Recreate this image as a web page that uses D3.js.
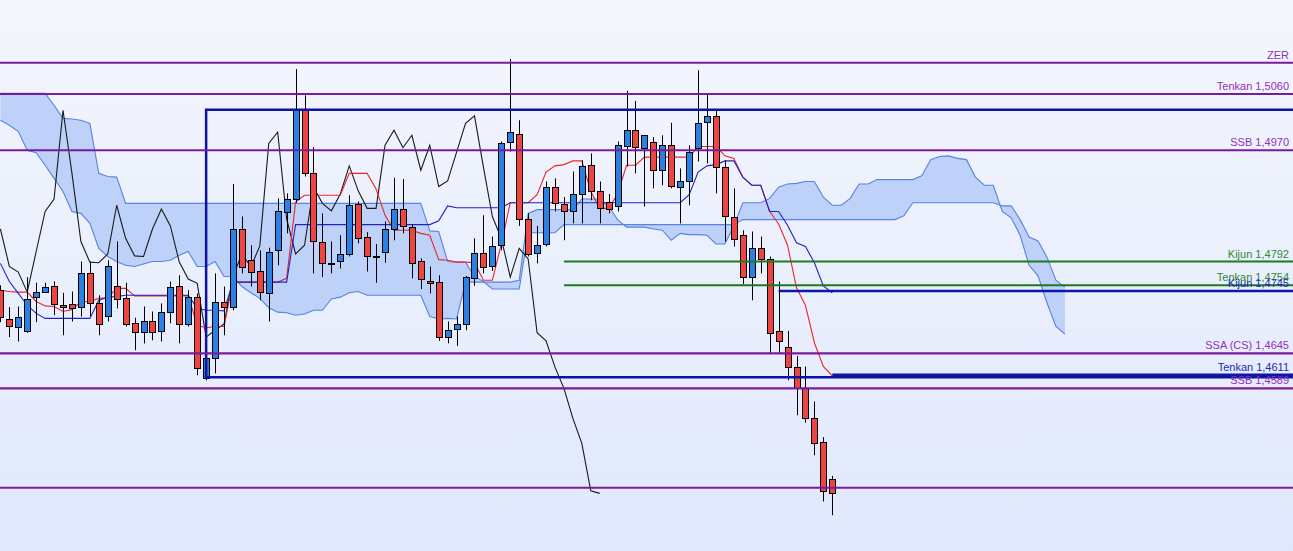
<!DOCTYPE html>
<html>
<head>
<meta charset="utf-8">
<script src="https://cdn.jsdelivr.net/npm/d3@7"></script>
<style>
html,body{margin:0;padding:0;overflow:hidden;background:#eef2fd;}
svg{display:block;}
</style>
</head>
<body>
<svg id="chart" width="1293" height="551"></svg>
<script>
// ---------- DATA ----------
const open = [1.4746,1.4700,1.4688,1.4681,1.4735,1.4743,1.4753,1.4722,1.4724,1.4720,
1.4774,1.4726,1.4705,1.4753,1.4733,1.4694,1.4679,1.4696,1.4680,1.4711,
1.4752,1.4692,1.4735,1.4605,1.4637,1.4727,1.4719,1.4844,1.4794,1.4776,
1.4743,1.4809,1.4872,1.4892,1.5034,1.4933,1.4824,1.4790,1.4792,1.4804,
1.4884,1.4831,1.4800,1.4808,1.4844,1.4876,1.4848,1.4793,1.4761,1.4759,
1.4671,1.4684,1.4692,1.4765,1.4805,1.4785,1.4818,1.4983,1.4996,1.4860,
1.4805,1.4820,1.4911,1.4884,1.4872,1.4900,1.4946,1.4905,1.4888,1.4880,
1.4976,1.5002,1.4974,1.4983,1.4938,1.4978,1.4912,1.4921,1.4973,1.5015,
1.5025,1.4943,1.4864,1.4834,1.4767,1.4813,1.4796,1.4681,1.4655,1.4623,
1.4589,1.4541,1.4503,1.4444];
const high = [1.4754,1.4719,1.4720,1.4767,1.4758,1.4758,1.4760,1.4742,1.4744,1.4792,
1.4792,1.4738,1.4794,1.4824,1.4758,1.4702,1.4720,1.4712,1.4725,1.4760,
1.4770,1.4746,1.4741,1.4645,1.4773,1.4752,1.4916,1.4864,1.4818,1.4810,
1.4814,1.4893,1.4901,1.5100,1.5058,1.4975,1.4869,1.4824,1.4834,1.4898,
1.4888,1.4839,1.4820,1.4856,1.4926,1.4924,1.4852,1.4797,1.4784,1.4770,
1.4696,1.4704,1.4769,1.4829,1.4866,1.4832,1.4984,1.5116,1.5018,1.4869,
1.4849,1.4920,1.4925,1.4895,1.4936,1.4954,1.4965,1.4920,1.4900,1.4984,
1.5065,1.5049,1.4994,1.4991,1.4994,1.5014,1.4941,1.4978,1.5098,1.5060,
1.5034,1.4954,1.4909,1.4842,1.4840,1.4832,1.4800,1.4760,1.4681,1.4641,
1.4624,1.4568,1.4511,1.4449];
const low = [1.4695,1.4671,1.4664,1.4678,1.4695,1.4742,1.4706,1.4674,1.4696,1.4704,
1.4704,1.4674,1.4696,1.4717,1.4688,1.4650,1.4661,1.4666,1.4664,1.4693,
1.4661,1.4688,1.4610,1.4602,1.4613,1.4674,1.4714,1.4773,1.4752,1.4730,
1.4696,1.4786,1.4837,1.4886,1.4928,1.4773,1.4767,1.4773,1.4781,1.4800,
1.4821,1.4776,1.4758,1.4790,1.4826,1.4837,1.4765,1.4748,1.4741,1.4665,
1.4661,1.4657,1.4682,1.4753,1.4773,1.4777,1.4810,1.4968,1.4849,1.4800,
1.4789,1.4816,1.4872,1.4826,1.4853,1.4853,1.4890,1.4853,1.4869,1.4872,
1.4944,1.4933,1.4880,1.4909,1.4914,1.4909,1.4853,1.4882,1.4952,1.4949,
1.4901,1.4824,1.4816,1.4756,1.4730,1.4773,1.4645,1.4645,1.4602,1.4546,
1.4534,1.4482,1.4408,1.4386];
const close = [1.4702,1.4688,1.4704,1.4732,1.4743,1.4751,1.4724,1.4719,1.4717,1.4774,
1.4726,1.4692,1.4785,1.4733,1.4692,1.4679,1.4696,1.4679,1.4711,1.4751,
1.4692,1.4735,1.4621,1.4637,1.4727,1.4719,1.4844,1.4784,1.4775,1.4743,
1.4808,1.4872,1.4892,1.5034,1.4933,1.4824,1.4791,1.4790,1.4804,1.4882,
1.4829,1.4801,1.4800,1.4844,1.4876,1.4849,1.4791,1.4764,1.4757,1.4671,
1.4682,1.4692,1.4767,1.4805,1.4783,1.4817,1.4981,1.4999,1.4860,1.4804,
1.4818,1.4911,1.4885,1.4873,1.4900,1.4945,1.4905,1.4877,1.4877,1.4978,
1.5002,1.4974,1.4994,1.4938,1.4978,1.4912,1.4921,1.4967,1.5013,1.5025,
1.4943,1.4864,1.4829,1.4767,1.4813,1.4796,1.4678,1.4665,1.4623,1.4589,
1.4541,1.4501,1.4425,1.4421];
const tenkan = [1.4746,1.4744,1.4743,1.4743,1.4728,1.4721,1.4720,1.4712,1.4715,1.4728,
1.4728,1.4733,1.4734,1.4749,1.4749,1.4737,1.4737,1.4737,1.4737,1.4737,
1.4737,1.4737,1.4690,1.4686,1.4688,1.4688,1.4759,1.4759,1.4759,1.4759,
1.4759,1.4759,1.4765,1.4887,1.4898,1.4898,1.4898,1.4898,1.4898,1.4933,
1.4933,1.4933,1.4908,1.4866,1.4842,1.4842,1.4842,1.4837,1.4834,1.4795,
1.4794,1.4791,1.4791,1.4790,1.4762,1.4762,1.4820,1.4886,1.4886,1.4886,
1.4899,1.4935,1.4945,1.4947,1.4953,1.4953,1.4904,1.4877,1.4877,1.4900,
1.4946,1.4946,1.4959,1.4959,1.4959,1.4959,1.4959,1.4959,1.4976,1.4976,
1.4976,1.4961,1.4957,1.4927,1.4914,1.4914,1.4872,1.4852,1.4818,1.4750,
1.4722,1.4662,1.4624,1.4609];
const kijun = [1.4789,1.4760,1.4741,1.4722,1.4709,1.4701,1.4701,1.4701,1.4701,1.4701,
1.4701,1.4730,1.4735,1.4736,1.4738,1.4738,1.4738,1.4738,1.4738,1.4738,
1.4738,1.4738,1.4717,1.4714,1.4714,1.4713,1.4759,1.4759,1.4759,1.4759,
1.4759,1.4759,1.4759,1.4851,1.4851,1.4851,1.4851,1.4851,1.4851,1.4851,
1.4851,1.4851,1.4851,1.4851,1.4851,1.4851,1.4851,1.4851,1.4851,1.4857,
1.4881,1.4878,1.4878,1.4878,1.4878,1.4878,1.4878,1.4886,1.4886,1.4886,
1.4886,1.4886,1.4886,1.4886,1.4886,1.4886,1.4886,1.4886,1.4886,1.4886,
1.4886,1.4886,1.4886,1.4886,1.4886,1.4886,1.4886,1.4899,1.4935,1.4945,
1.4947,1.4953,1.4953,1.4927,1.4914,1.4914,1.4872,1.4872,1.4850,1.4822,
1.4816,1.4790,1.4753,1.4742];
// lagging span, drawn 26 bars back
const chikou = [1.4844,1.4784,1.4775,1.4743,1.4808,1.4872,1.4892,1.5034,1.4933,1.4824,
1.4791,1.4790,1.4804,1.4882,1.4829,1.4801,1.4800,1.4844,1.4876,1.4849,
1.4791,1.4764,1.4757,1.4671,1.4682,1.4692,1.4767,1.4805,1.4783,1.4817,
1.4981,1.4999,1.4860,1.4804,1.4818,1.4911,1.4885,1.4873,1.4900,1.4945,
1.4905,1.4877,1.4877,1.4978,1.5002,1.4974,1.4994,1.4938,1.4978,1.4912,
1.4921,1.4967,1.5013,1.5025,1.4943,1.4864,1.4829,1.4767,1.4813,1.4796,
1.4678,1.4665,1.4623,1.4589,1.4541,1.4501,1.4425,1.4421];
// leading spans, 120 bars (94 + 26 ahead)
const senkouA = [1.5018,1.5010,1.5000,1.4970,1.4966,1.4946,1.4925,1.4904,1.4872,1.4869,
1.4853,1.4813,1.4800,1.4792,1.4786,1.4784,1.4788,1.4792,1.4792,1.4794,
1.4802,1.4808,1.4784,1.4784,1.4792,1.4768,1.4768,1.4752,1.4742,1.4733,
1.4718,1.4711,1.4710,1.4706,1.4708,1.4714,1.4714,1.4732,1.4735,1.4742,
1.4744,1.4738,1.4738,1.4738,1.4738,1.4738,1.4738,1.4738,1.4704,1.4700,
1.4701,1.4700,1.4759,1.4759,1.4759,1.4759,1.4759,1.4759,1.4762,1.4869,
1.4875,1.4875,1.4875,1.4875,1.4875,1.4892,1.4892,1.4892,1.4880,1.4859,
1.4847,1.4847,1.4847,1.4844,1.4842,1.4826,1.4837,1.4835,1.4835,1.4834,
1.4820,1.4820,1.4849,1.4886,1.4886,1.4886,1.4893,1.4911,1.4916,1.4917,
1.4920,1.4920,1.4895,1.4882,1.4882,1.4893,1.4916,1.4916,1.4923,1.4923,
1.4923,1.4923,1.4923,1.4929,1.4955,1.4960,1.4961,1.4957,1.4955,1.4927,
1.4914,1.4914,1.4872,1.4862,1.4834,1.4786,1.4769,1.4726,1.4688,1.4676];
const senkouB = [1.5061,1.5061,1.5061,1.5061,1.5061,1.5061,1.5042,1.5021,1.5020,1.5018,
1.5013,1.4933,1.4928,1.4927,1.4885,1.4885,1.4885,1.4885,1.4885,1.4885,
1.4885,1.4885,1.4885,1.4885,1.4885,1.4885,1.4885,1.4885,1.4885,1.4885,
1.4885,1.4885,1.4885,1.4885,1.4885,1.4885,1.4885,1.4885,1.4885,1.4885,
1.4885,1.4885,1.4885,1.4885,1.4885,1.4885,1.4885,1.4885,1.4841,1.4840,
1.4792,1.4791,1.4791,1.4768,1.4760,1.4748,1.4748,1.4748,1.4748,1.4838,
1.4838,1.4838,1.4838,1.4851,1.4851,1.4851,1.4851,1.4851,1.4851,1.4851,
1.4851,1.4851,1.4851,1.4851,1.4851,1.4851,1.4851,1.4851,1.4851,1.4851,
1.4851,1.4851,1.4851,1.4859,1.4859,1.4859,1.4859,1.4859,1.4859,1.4859,
1.4859,1.4859,1.4859,1.4859,1.4859,1.4859,1.4859,1.4859,1.4859,1.4859,
1.4859,1.4865,1.4886,1.4886,1.4886,1.4886,1.4886,1.4886,1.4886,1.4886,
1.4886,1.4886,1.4881,1.4881,1.4859,1.4831,1.4825,1.4799,1.4762,1.4751];
// horizontal levels
const levelValues = [1.5110, 1.5060, 1.4970, 1.4792, 1.4754, 1.4745, 1.4645, 1.4611, 1.4589, 1.4430];
const levelLabels = ["ZER", "Tenkan 1,5060", "SSB 1,4970", "Kijun 1,4792", "Tenkan 1,4754",
                     "Kijun 1,4745", "SSA (CS) 1,4645", "Tenkan 1,4611", "SSB 1,4589", ""];
const levelKinds = ["zone","zone","zone","proj","proj","line","zone","line","zone","zone"];
const levelStartBar = [null,null,null,63,63,87,null,93,null,null];
// range box
const boxHigh = 1.5035, boxLow = 1.4607, boxStartBar = 23;

// ---------- STYLE ----------
const W = 1293, H = 551;
const kindColor = {zone:"#7a1a9c", proj:"#1d7a1d", line:"#0d16a6"};
const kindText  = {zone:"#9430b8", proj:"#2e8a2e", line:"#1c2ab4"};
const upFill = "#2b80e4", downFill = "#f04444";

const svg = d3.select("#chart");
const defs = svg.append("defs");
const grad = defs.append("linearGradient").attr("id","bg").attr("x1",0).attr("y1",0).attr("x2",0).attr("y2",1);
grad.append("stop").attr("offset","0%").attr("stop-color","#f4f6fd");
grad.append("stop").attr("offset","100%").attr("stop-color","#e0e8fc");
svg.append("rect").attr("width",W).attr("height",H).attr("fill","url(#bg)");

const nBars = close.length;
const nAll = senkouA.length;
const x = d3.scaleLinear().domain([0, nAll - 1]).range([0.4, 0.4 + 8.945 * (nAll - 1)]);
const y = d3.scaleLinear().domain([1.43288, 1.52104]).range([H, 0]);

// cloud
const cloudIdx = d3.range(nAll);
svg.append("path")
  .datum(cloudIdx)
  .attr("fill","#bccff8")
  .attr("fill-opacity",0.95)
  .attr("d", d3.area().x(i => x(i)).y0(i => y(senkouA[i])).y1(i => y(senkouB[i])));
const edge = d3.line().x(d => x(d[0])).y(d => y(d[1]));
[senkouA, senkouB].forEach(s => {
  svg.append("path").datum(s.map((v,i)=>[i,v]))
    .attr("fill","none").attr("stroke","#5584e2").attr("stroke-width",1.1)
    .attr("d", edge);
});

// chikou, tenkan, kijun
svg.append("path").datum(chikou.map((v,i)=>[i,v]))
  .attr("fill","none").attr("stroke","#1a1a1a").attr("stroke-width",1.1).attr("d", edge);
svg.append("path").datum(tenkan.map((v,i)=>[i,v]))
  .attr("fill","none").attr("stroke","#e8282c").attr("stroke-width",1.1).attr("d", edge);
svg.append("path").datum(kijun.map((v,i)=>[i,v]))
  .attr("fill","none").attr("stroke","#1f24c4").attr("stroke-width",1.1).attr("d", edge);

// candles
const bars = d3.range(nBars);
const cg = svg.append("g");
cg.selectAll("line.wick").data(bars).join("line")
  .attr("x1", i => Math.round(x(i)) + 0.5).attr("x2", i => Math.round(x(i)) + 0.5)
  .attr("y1", i => y(high[i])).attr("y2", i => y(low[i]))
  .attr("stroke","#000").attr("stroke-width",1);
cg.selectAll("rect.body").data(bars).join("rect")
  .attr("x", i => Math.round(x(i)) - 2.5)
  .attr("width", 6)
  .attr("y", i => Math.round(y(Math.max(open[i], close[i]))) + 0.5)
  .attr("height", i => Math.max(1, Math.round(Math.abs(y(open[i]) - y(close[i])))))
  .attr("fill", i => close[i] >= open[i] ? upFill : downFill)
  .attr("stroke","#000").attr("stroke-width",1);

// range box
svg.append("path")
  .attr("d", `M${W+5},${y(boxHigh)} H${x(boxStartBar)} V${y(boxLow)} H${W+5}`)
  .attr("fill","none").attr("stroke","#0e12a0").attr("stroke-width",2.5);

// horizontal levels
const lg = svg.append("g");
levelValues.forEach((v, k) => {
  const x0 = levelStartBar[k] === null ? 0 : x(levelStartBar[k]);
  lg.append("line")
    .attr("x1", x0).attr("x2", W)
    .attr("y1", y(v)).attr("y2", y(v))
    .attr("stroke", kindColor[levelKinds[k]])
    .attr("stroke-width", levelKinds[k] === "line" ? 2.5 : 2.2);
});
levelValues.forEach((v, k) => {
  if (!levelLabels[k]) return;
  lg.append("text")
    .attr("x", 1289).attr("y", y(v) - 4)
    .attr("text-anchor","end")
    .attr("font-family","Liberation Sans, Arial, sans-serif")
    .attr("font-size", 11)
    .attr("fill", kindText[levelKinds[k]])
    .text(levelLabels[k]);
});
</script>
</body>
</html>
